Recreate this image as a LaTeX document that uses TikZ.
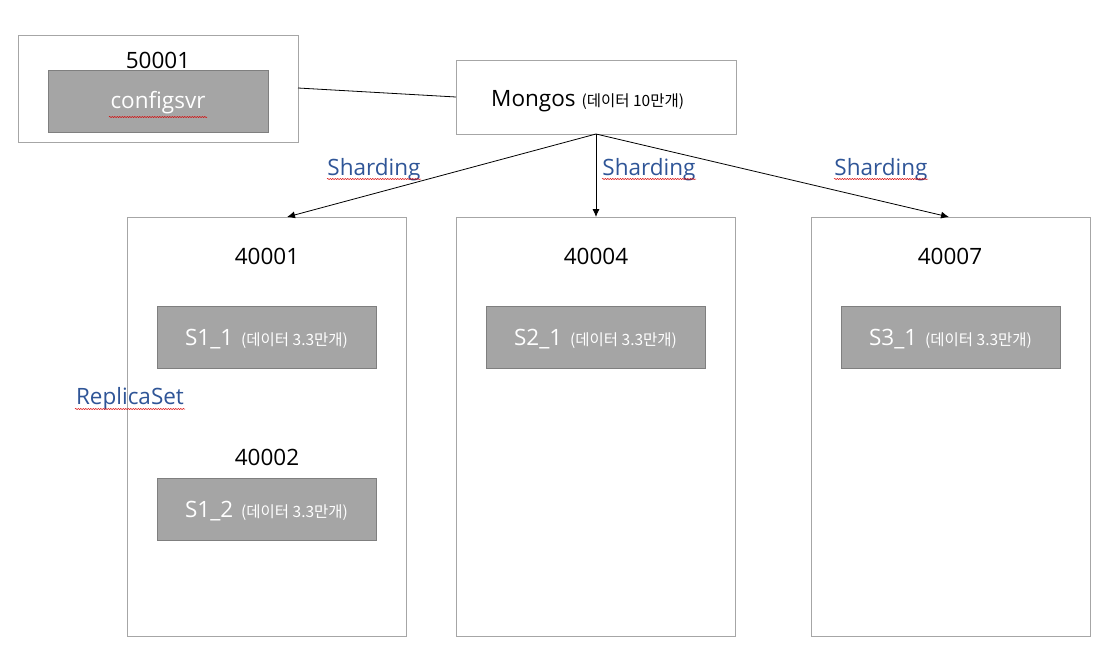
\documentclass[tikz,border=0pt]{standalone}
\usepackage{fontspec}
\setmainfont{Open Sans}
\newfontfamily\kr{Noto Sans CJK KR}
\usetikzlibrary{decorations.pathmorphing,arrows.meta}
\definecolor{boxline}{HTML}{A6A6A6}
\definecolor{grayfill}{HTML}{A5A5A5}
\definecolor{grayline}{HTML}{7F7F7F}
\definecolor{bluetxt}{HTML}{2F5597}
\newcommand{\bigf}{\fontsize{22.5}{26}\selectfont}
\newcommand{\smallf}{\kr\fontsize{15.5}{18}\selectfont}
\begin{document}
\begin{tikzpicture}[x=1pt,y=-1pt,
  outerbox/.style={draw=boxline,line width=0.8pt,fill=white},
  graybox/.style={draw=grayline,line width=0.8pt,fill=grayfill},
  numtxt/.style={font=\bigf,text=black,inner sep=0pt},
  srvtxt/.style={font=\bigf,text=white,inner sep=0pt},
  bluelbl/.style={font=\bigf,text=bluetxt,inner sep=0pt},
  squig/.style={draw=red!85!black,line width=0.5pt,decorate,decoration={snake,amplitude=0.6pt,segment length=2.5pt}},
  conn/.style={line width=0.8pt,draw=black},
  arr/.style={conn,-{Latex[length=8pt,width=7pt]}}
]
\useasboundingbox (0,0) rectangle (1111,664);
% config server
\draw[outerbox] (18,35) rectangle (298,142);
\coordinate (cfgR) at (298,88);
\node[numtxt] (n50001) at (158,60) {50001};
\draw[graybox] (48,70) rectangle (268,132);
\node[srvtxt] (cfg) at (158,103) {configsvr};
\draw[squig] (109,117) -- (207,117);
% mongos
\draw[outerbox] (456,60) rectangle (736,134);
\coordinate (mgL) at (456,97);
\coordinate (mgB) at (596,134);
\node[anchor=base west,inner sep=0pt] (mg) at (491,106) {\bigf Mongos\hspace{6pt}{\smallf (데이터 10만개)}};
\draw[conn] (cfgR) -- (mgL);
% shard boxes
\draw[outerbox] (127,217) rectangle (406,636);
\draw[outerbox] (456,217) rectangle (735,636);
\draw[outerbox] (811,217) rectangle (1090,636);
\coordinate (sh1) at (287,217);
\coordinate (sh2) at (596,217);
\coordinate (sh3) at (949,217);
\draw[arr] (mgB) -- (sh1);
\draw[arr] (mgB) -- (sh2);
\draw[arr] (mgB) -- (sh3);
% sharding labels
\node[bluelbl] (l1) at (374,170) {Sharding};
\node[bluelbl] (l2) at (649,170) {Sharding};
\node[bluelbl] (l3) at (881,170) {Sharding};
\draw[squig] (327,179) -- (421,179);
\draw[squig] (602,179) -- (696,179);
\draw[squig] (834,179) -- (928,179);
% ports
\node[numtxt] (p1) at (267,256) {40001};
\node[numtxt] (p2) at (596,256) {40004};
\node[numtxt] (p3) at (950,256) {40007};
\node[numtxt] (p4) at (267,457) {40002};
% servers
\draw[graybox] (157,306) rectangle (376,368);
\draw[graybox] (486,306) rectangle (705,368);
\draw[graybox] (841,306) rectangle (1060,368);
\draw[graybox] (157,478) rectangle (376,540);
\node[text=white,inner sep=0pt] (s11) at (266.5,339) {\bigf S1\_1\hspace{8pt}{\smallf (데이터 3.3만개)}};
\node[text=white,inner sep=0pt] (s21) at (595.5,339) {\bigf S2\_1\hspace{8pt}{\smallf (데이터 3.3만개)}};
\node[text=white,inner sep=0pt] (s31) at (950.5,339) {\bigf S3\_1\hspace{8pt}{\smallf (데이터 3.3만개)}};
\node[text=white,inner sep=0pt] (s12) at (266.5,511) {\bigf S1\_2\hspace{8pt}{\smallf (데이터 3.3만개)}};
% replica set
\node[bluelbl] (rs) at (130,399) {ReplicaSet};
\draw[squig] (75,409) -- (185,409);
\end{tikzpicture}
\end{document}
